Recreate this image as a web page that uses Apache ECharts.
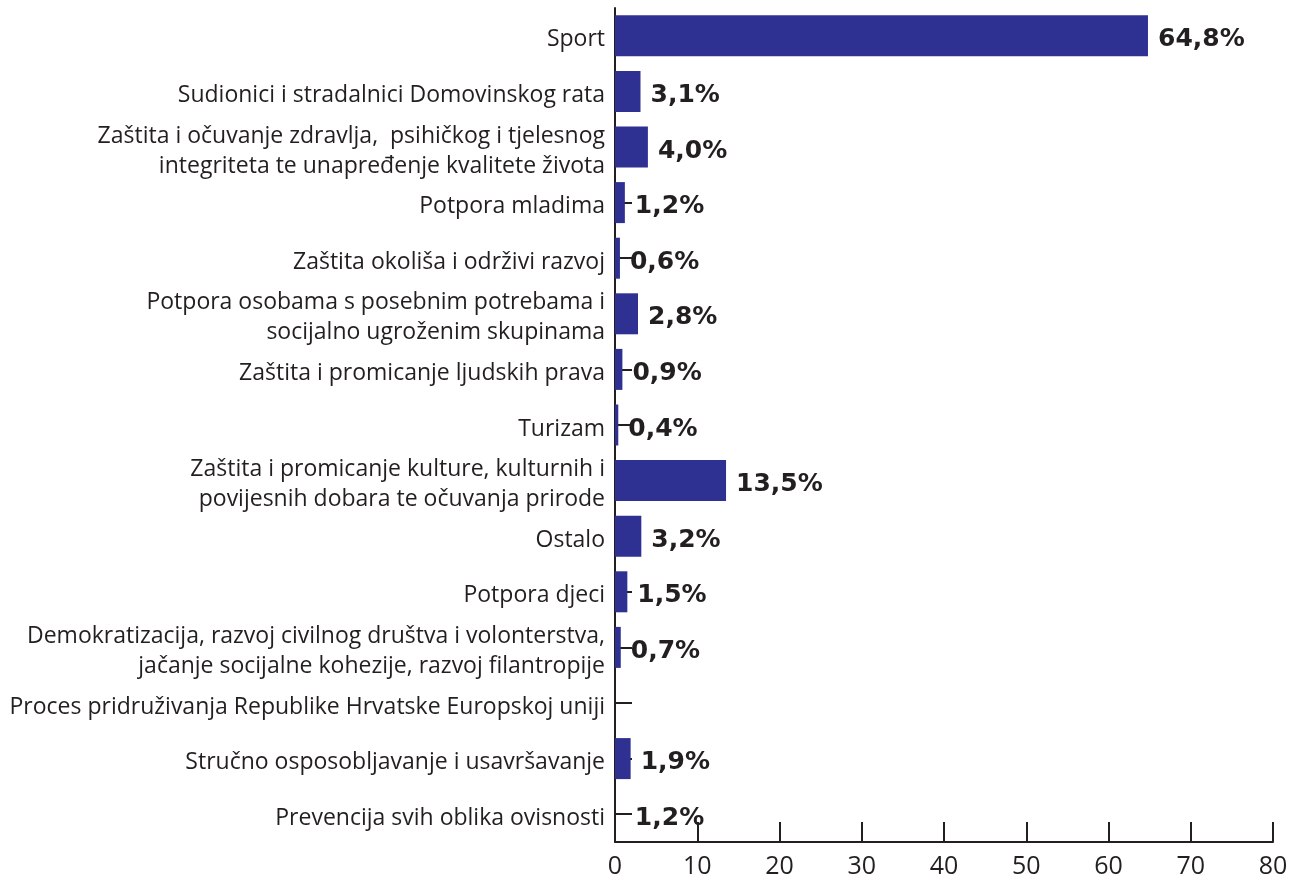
<!DOCTYPE html>
<html>
<head>
<meta charset="utf-8">
<script src="https://cdn.jsdelivr.net/npm/echarts@6/dist/echarts.min.js"></script>
<style>
  html, body { margin: 0; padding: 0; background: #fff; }
  #chart { width: 1295px; height: 883px; }
</style>
</head>
<body>
<div id="chart"></div>
<script>
// kategorije odozgo prema dolje
const categories = [
  'Sport',
  'Sudionici i stradalnici Domovinskog rata',
  'Zaštita i očuvanje zdravlja,  psihičkog i tjelesnog\nintegriteta te unapređenje kvalitete života',
  'Potpora mladima',
  'Zaštita okoliša i održivi razvoj',
  'Potpora osobama s posebnim potrebama i\nsocijalno ugroženim skupinama',
  'Zaštita i promicanje ljudskih prava',
  'Turizam',
  'Zaštita i promicanje kulture, kulturnih i\npovijesnih dobara te očuvanja prirode',
  'Ostalo',
  'Potpora djeci',
  'Demokratizacija, razvoj civilnog društva i volonterstva,\njačanje socijalne kohezije, razvoj filantropije',
  'Proces pridruživanja Republike Hrvatske Europskoj uniji',
  'Stručno osposobljavanje i usavršavanje',
  'Prevencija svih oblika ovisnosti'
]
const values = [64.8, 3.1, 4.0, 1.2, 0.6, 2.8, 0.9, 0.4, 13.5, 3.2, 1.5, 0.7, null, 1.9, 1.2]
// na izvorniku ova kategorija ima samo natpis, bez stupca
const noBar = ['Prevencija svih oblika ovisnosti']
const xTicks = { min: 0, max: 80, interval: 10 }

const txt = '#231f20'
const barColor = '#2e3192'

const seriesData = values.map((v, i) => {
  if (v === null) return { value: null, label: { show: false } }
  const item = { value: v }
  if (noBar.indexOf(categories[i]) >= 0) {
    item.itemStyle = { color: 'rgba(0,0,0,0)' }
  }
  return item
})

let myChart = echarts.init(document.getElementById('chart'))
let option = {
  animation: false,
  grid: [
    { left: 615, right: 22, top: 8, bottom: 41, containLabel: false },
    // samo za natpise kategorija, malo spušteno
    { left: 615, right: 22, top: 12, bottom: 37, containLabel: false }
  ],
  xAxis: [
    {
      type: 'value',
      gridIndex: 0,
      min: xTicks.min,
      max: xTicks.max,
      interval: xTicks.interval,
      splitLine: { show: false },
      axisLine: { show: true, lineStyle: { color: txt, width: 2 } },
      axisTick: { show: true, inside: true, length: 20, lineStyle: { color: txt, width: 2 } },
      axisLabel: { color: txt, fontSize: 25, fontFamily: 'Open Sans', margin: 12 }
    },
    { type: 'value', gridIndex: 1, show: false, min: xTicks.min, max: xTicks.max }
  ],
  yAxis: [
    {
      type: 'category',
      gridIndex: 0,
      inverse: true,
      data: categories,
      axisLine: { show: true, lineStyle: { color: txt, width: 2 } },
      axisTick: { show: true, inside: true, length: 17, alignWithLabel: true, lineStyle: { color: txt, width: 2 } },
      axisLabel: { show: false }
    },
    {
      type: 'category',
      gridIndex: 1,
      inverse: true,
      data: categories,
      axisLine: { show: false },
      axisTick: { show: false },
      axisLabel: {
        color: txt, fontSize: 23, fontFamily: 'Open Sans', margin: 10,
        lineHeight: 30, align: 'right'
      }
    }
  ],
  series: [
    {
      type: 'bar',
      xAxisIndex: 0,
      yAxisIndex: 0,
      barWidth: 41,
      itemStyle: { color: barColor },
      label: {
        show: true,
        position: 'right',
        distance: 10,
        offset: [0, 4],
        color: txt,
        fontSize: 25,
        fontWeight: 'bold',
        fontFamily: 'DejaVu Sans',
        formatter: p => p.value.toFixed(1).replace('.', ',') + '%'
      },
      data: seriesData
    }
  ]
}
myChart.setOption(option)
</script>
</body>
</html>
